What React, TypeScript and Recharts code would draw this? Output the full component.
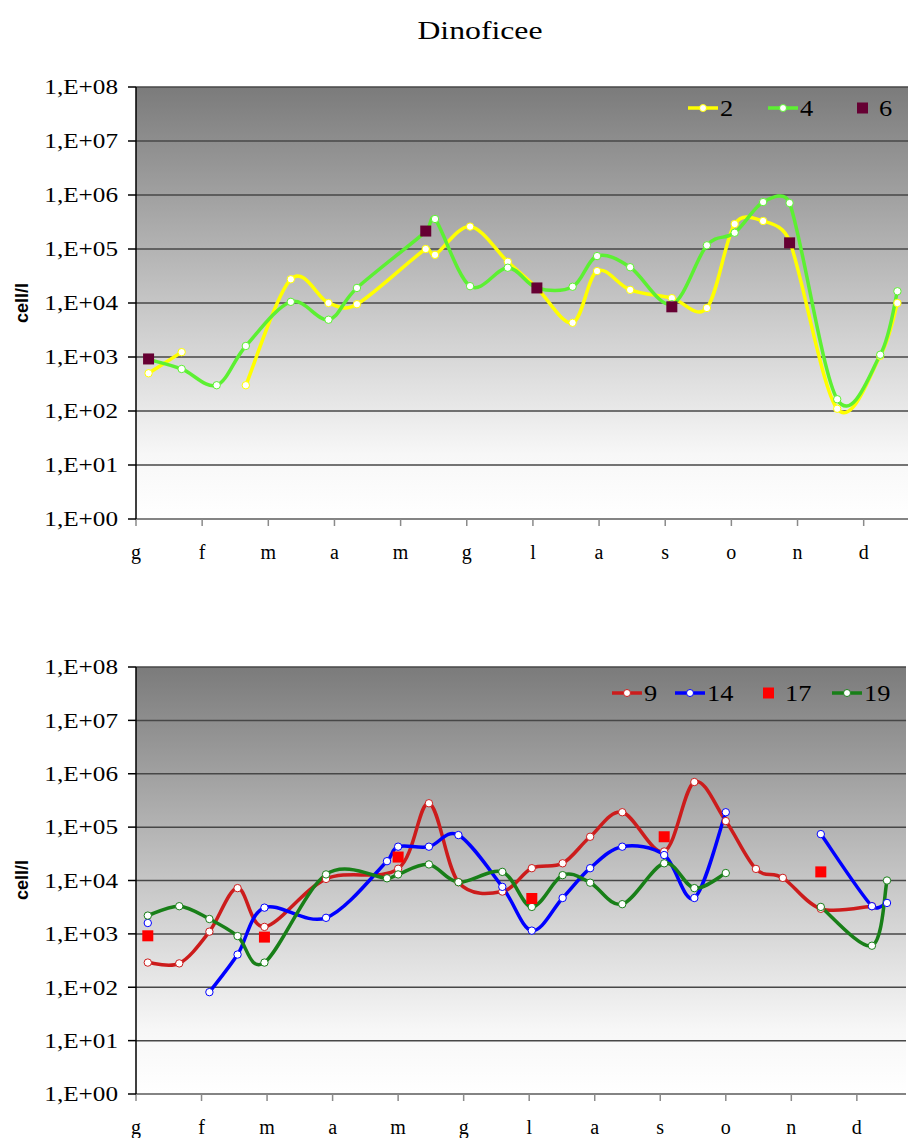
import { LineChart, Line, XAxis, YAxis, CartesianGrid } from "recharts"

const months = ["g", "f", "m", "a", "m", "g", "l", "a", "s", "o", "n", "d"]
const monthTicks = [0, 1, 2, 3, 4, 5, 6, 7, 8, 9, 10, 11]
const yTicks = [1, 10, 100, 1e3, 1e4, 1e5, 1e6, 1e7, 1e8]

// top panel: sampling dates (in months from the start of g) and cell/l
const topX = [0.19, 0.69, 1.22, 1.66, 2.34, 2.91, 3.34, 4.38, 4.52, 5.05, 5.62, 6.06, 6.6, 6.97, 7.47, 8.1, 8.63, 9.05, 9.48, 9.88, 10.6, 11.25, 11.51]
const st2 = [500, 1230, null, 300, 27500, 10000, 9500, 100000, 78000, 260000, 58000, 19000, 4300, 39000, 17500, 12300, 8100, 290000, 330000, 140000, 110, 1050, 10000]
const st4 = [900, 600, 300, 1600, 10500, 4900, 19000, 210000, 360000, 20500, 45000, 19000, 20000, 74000, 46000, 9500, 117000, 200000, 740000, 710000, 165, 1100, 16500]
const st6 = [920, null, null, null, null, null, null, 215000, null, null, null, 19000, null, null, null, 8500, null, null, null, 130000, null, null, null]

// bottom panel
const botX = [0.18, 0.66, 1.12, 1.55, 1.96, 2.9, 3.83, 4.0, 4.47, 4.92, 5.59, 6.04, 6.51, 6.93, 7.42, 8.06, 8.52, 9.0, 9.46, 9.87, 10.45, 11.23, 11.46]
const st9 = [290, 280, 1100, 7200, 1350, 10700, null, 16600, 280000, 9300, 6200, 17000, 21000, 66000, 190000, 35000, 700000, 130000, 16500, 11200, 2950, 3300, null]
const st14 = [1600, null, 81, 410, 3100, 2000, 23000, 43000, 43000, 71000, 7600, 1150, 4700, 17000, 43000, 30000, 4700, 190000, null, null, 74000, 3300, 3800]
const st17 = [920, null, null, null, 870, null, null, 27500, null, null, null, 4600, null, null, null, 66000, null, null, null, null, 14500, null, null]
const st19 = [2200, 3300, 1900, 910, 290, 13000, 11000, 13000, 20000, 9300, 14500, 3200, 12600, 9100, 3600, 21000, 7200, 13800, null, null, 3200, 600, 10000]

const topData = topX.map((x, i) => ({ x, s2: st2[i], s4: st4[i], s6: st6[i] }))
const botData = botX.map((x, i) => ({ x, s9: st9[i], s14: st14[i], s17: st17[i], s19: st19[i] }))

const serif = "'Liberation Serif', 'Times New Roman', serif"

// excel-like smoothed line: catmull-rom, control arms capped to half the chord
const limitArm = (dx: number, dy: number, chord: number) => {
    const len = Math.hypot(dx, dy)
    const max = chord * 0.5
    return len > max && len > 0 ? [dx * max / len, dy * max / len] : [dx, dy]
}

const smooth = (context: any) => {
    let pts: number[][] = []
    return {
        areaStart() { },
        areaEnd() { },
        lineStart() { pts = [] },
        point(x: number, y: number) { pts.push([+x, +y]) },
        lineEnd() {
            const n = pts.length
            if (!n) return
            context.moveTo(pts[0][0], pts[0][1])
            for (let i = 0; i < n - 1; i++) {
                const p0 = pts[Math.max(i - 1, 0)], p1 = pts[i], p2 = pts[i + 1], p3 = pts[Math.min(i + 2, n - 1)]
                const chord = Math.hypot(p2[0] - p1[0], p2[1] - p1[1])
                const a = limitArm((p2[0] - p0[0]) / 6, (p2[1] - p0[1]) / 6, chord)
                const b = limitArm((p3[0] - p1[0]) / 6, (p3[1] - p1[1]) / 6, chord)
                context.bezierCurveTo(p1[0] + a[0], p1[1] + a[1], p2[0] - b[0], p2[1] - b[1], p2[0], p2[1])
            }
        },
    }
}

const squareDot = (color: string) => (props: any) => {
    const { cx, cy, index } = props
    if (cx == null || cy == null || isNaN(cy)) return <g key={index} />
    return <rect key={index} x={cx - 5.5} y={cy - 5.5} width={11} height={11} fill={color} />
}

const YTick = (props: any) => {
    const { x, y, payload } = props
    const e = Math.round(Math.log10(payload.value))
    return (
        <g transform={`translate(${x - 8},${y}) scale(1.2,1)`}>
            <text x={0} y={0} dy="0.35em" textAnchor="end" fontSize={21} fontFamily={serif} fill="#000">
                {`1,E+${String(e).padStart(2, "0")}`}
            </text>
        </g>
    )
}

const XTick = (props: any) => {
    const { x, y, payload } = props
    return (
        <text x={x} y={y} dy={31} textAnchor="middle" fontSize={20} fontFamily={serif} fill="#000">
            {months[payload.value]}
        </text>
    )
}

type Serie = { key: string, color: string, square?: boolean, connect?: boolean }
type LegendEntry = { label: string, color: string, square?: boolean, left: number }

const LegendRow = ({ items, top }: { items: LegendEntry[], top: number }) => (
    <>
        {items.map((it) => (
            <div key={it.label} style={{ position: "absolute", left: it.left, top: top - 12, height: 24, display: "flex", alignItems: "center", fontFamily: serif, fontSize: 24 }}>
                {it.square ?
                    <svg width={22} height={24}><rect x={0} y={6.5} width={11} height={11} fill={it.color} /></svg> :
                    <svg width={32} height={24}>
                        <line x1={0} x2={30} y1={12} y2={12} stroke={it.color} strokeWidth={3.5} />
                        <circle cx={15} cy={12} r={3.5} fill="#fff" stroke={it.color} strokeWidth={1} />
                    </svg>
                }
                <span style={{ display: "inline-block", transform: "scaleX(1.1)", transformOrigin: "left" }}>{it.label}</span>
            </div>
        ))}
    </>
)

const Panel = ({ data, series, xMax, height, plotH, right }: { data: any[], series: Serie[], xMax: number, height: number, plotH: number, right: number }) => (
    <LineChart width={911} height={height} data={data} margin={{ top: 87, right: right, left: 36, bottom: height - 87 - plotH - 40 }}>
        <CartesianGrid vertical={false} stroke="#474747" strokeWidth={1.5} fill="url(#plotBg)" fillOpacity={1} />
        <XAxis type="number" dataKey="x" domain={[0, xMax]} ticks={monthTicks} allowDataOverflow
            height={40} tickSize={7} tick={<XTick />} stroke="#8a8a8a" strokeWidth={1.5} />
        <YAxis type="number" scale="log" domain={[1, 1e8]} ticks={yTicks} allowDataOverflow
            width={100} tickSize={8} tick={<YTick />} stroke="#000" strokeWidth={1.5} />
        {series.map((s) => s.square ?
            <Line key={s.key} dataKey={s.key} stroke="none" dot={squareDot(s.color)} activeDot={false} isAnimationActive={false} /> :
            <Line key={s.key} dataKey={s.key} type={smooth as any} stroke={s.color} strokeWidth={3.5} connectNulls={!!s.connect}
                dot={{ r: 3.7, fill: "#fff", stroke: s.color, strokeWidth: 1, fillOpacity: 1 }} activeDot={false} isAnimationActive={false} />
        )}
    </LineChart>
)

const topSeries: Serie[] = [
    { key: "s2", color: "#ffff00" },
    { key: "s4", color: "#5cf032" },
    { key: "s6", color: "#660033", square: true },
]
const botSeries: Serie[] = [
    { key: "s9", color: "#cc1c1c", connect: true },
    { key: "s14", color: "#0000ff" },
    { key: "s19", color: "#187f18" },
    { key: "s17", color: "#ff0000", square: true },
]

const labelStyle: any = { position: "absolute", left: -18, width: 80, textAlign: "center", fontFamily: "'Liberation Sans', Arial, sans-serif", fontWeight: "bold", fontSize: 18, lineHeight: "20px", transform: "rotate(-90deg)" }

const App = () => {
    return (
        <div style={{ position: "absolute", left: 0, top: 0, width: 911, height: 1138, background: "#fff", overflow: "hidden" }}>
            <svg width={0} height={0} style={{ position: "absolute" }}>
                <defs>
                    <linearGradient id="plotBg" x1="0" y1="0" x2="0" y2="1">
                        <stop offset="0%" stopColor="#7b7b7b" />
                        <stop offset="55%" stopColor="#cdcdcd" />
                        <stop offset="85%" stopColor="#f7f7f7" />
                        <stop offset="100%" stopColor="#ffffff" />
                    </linearGradient>
                </defs>
            </svg>
            <div style={{ position: "absolute", left: 380, top: 18, width: 200, textAlign: "center", fontFamily: serif, fontSize: 26, lineHeight: "26px", transform: "scaleX(1.22)" }}>
                Dinoficee
            </div>

            <div style={{ position: "absolute", left: 0, top: 0 }}>
                <Panel data={topData} series={topSeries} xMax={11.67} height={570} plotH={432} right={3} />
            </div>
            <div style={{ ...labelStyle, top: 293 }}>cell/l</div>
            <LegendRow top={108} items={[
                { label: "2", color: "#ffff00", left: 688 },
                { label: "4", color: "#5cf032", left: 768 },
                { label: "6", color: "#660033", square: true, left: 857 },
            ]} />

            <div style={{ position: "absolute", left: 0, top: 580 }}>
                <Panel data={botData} series={botSeries} xMax={11.75} height={558} plotH={427} right={5} />
            </div>
            <div style={{ ...labelStyle, top: 870 }}>cell/l</div>
            <LegendRow top={693} items={[
                { label: "9", color: "#cc1c1c", left: 612 },
                { label: "14", color: "#0000ff", left: 675 },
                { label: "17", color: "#ff0000", square: true, left: 763 },
                { label: "19", color: "#187f18", left: 832 },
            ]} />
        </div>
    )
}

export default App
